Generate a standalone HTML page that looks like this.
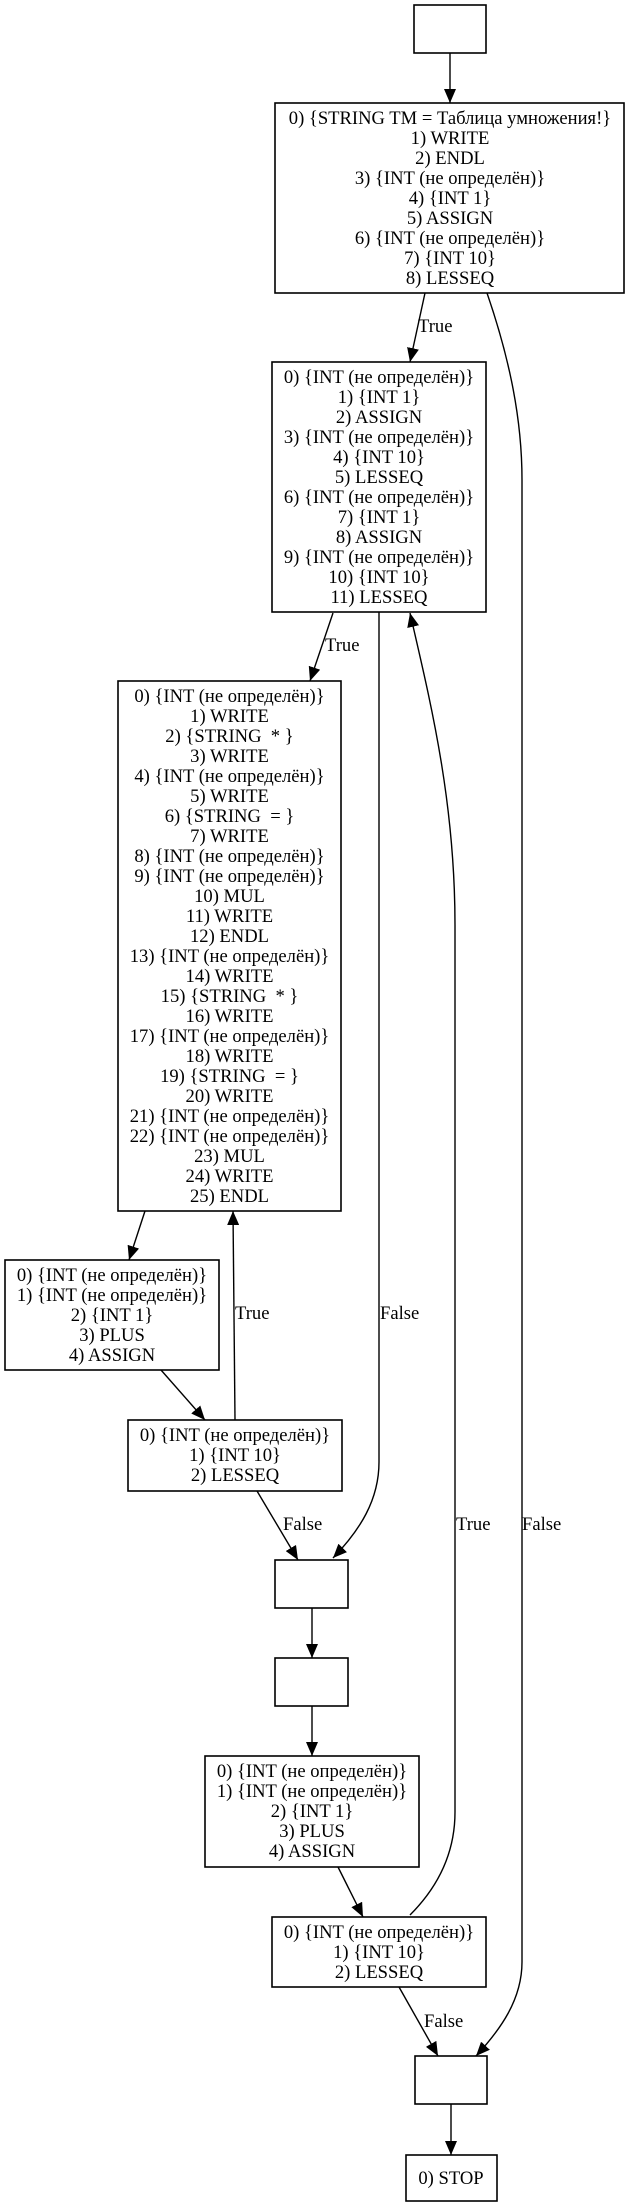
<!DOCTYPE html>
<html><head><meta charset="utf-8"><style>
html,body{margin:0;padding:0;background:#fff}
svg{display:block}
text{font-family:"Liberation Serif","DejaVu Serif",serif;font-size:18.6px;fill:#000}
</style></head><body>
<svg width="626" height="2203" viewBox="0 0 626 2203" xmlns="http://www.w3.org/2000/svg">
<defs><marker id="a" markerUnits="userSpaceOnUse" markerWidth="14" markerHeight="12" refX="14" refY="6" orient="auto"><path d="M0,0 L14,6 L0,12 Z" fill="#000"/></marker></defs>
<g fill="none" stroke="#000" stroke-width="1.6">
<rect x="414" y="5" width="72" height="48"/>
<rect x="275" y="103" width="349" height="190"/>
<rect x="272" y="362" width="214" height="250"/>
<rect x="118" y="681" width="223" height="530"/>
<rect x="5" y="1260" width="214" height="110"/>
<rect x="128" y="1420" width="214" height="71"/>
<rect x="275" y="1560" width="73" height="48"/>
<rect x="275" y="1658" width="73" height="48"/>
<rect x="205" y="1756" width="214" height="111"/>
<rect x="272" y="1917" width="214" height="70"/>
<rect x="415" y="2056" width="72" height="48"/>
<rect x="406" y="2155" width="91" height="46"/>
</g>
<g fill="none" stroke="#000" stroke-width="1.4" marker-end="url(#a)">
<path d="M450,53 L450,103"/>
<path d="M425,293 L410,362"/>
<path d="M487,293 C510,360 522,420 522,480 L522,1962 C522,2000 500,2030 476,2056"/>
<path d="M333,613 L310,681"/>
<path d="M379,612 L379,1462 C379,1500 360,1530 333,1558"/>
<path d="M145,1211 L129,1260"/>
<path d="M161,1370 L205,1420"/>
<path d="M235,1420 L233,1211"/>
<path d="M257,1491 L298,1560"/>
<path d="M312,1608 L312,1658"/>
<path d="M312,1706 L312,1756"/>
<path d="M338,1867 L363,1917"/>
<path d="M410,1915 C440,1885 455,1850 455,1812 L455,925 C455,800 430,700 410,613"/>
<path d="M399,1987 L438,2056"/>
<path d="M451,2104 L451,2155"/>
</g>
<g text-anchor="middle">
<text x="450" y="124">0) {STRING TM = Таблица умножения!}</text>
<text x="450" y="144">1) WRITE</text>
<text x="450" y="164">2) ENDL</text>
<text x="450" y="184">3) {INT (не определён)}</text>
<text x="450" y="204">4) {INT 1}</text>
<text x="450" y="224">5) ASSIGN</text>
<text x="450" y="244">6) {INT (не определён)}</text>
<text x="450" y="264">7) {INT 10}</text>
<text x="450" y="284">8) LESSEQ</text>

<text x="379" y="383">0) {INT (не определён)}</text>
<text x="379" y="403">1) {INT 1}</text>
<text x="379" y="423">2) ASSIGN</text>
<text x="379" y="443">3) {INT (не определён)}</text>
<text x="379" y="463">4) {INT 10}</text>
<text x="379" y="483">5) LESSEQ</text>
<text x="379" y="503">6) {INT (не определён)}</text>
<text x="379" y="523">7) {INT 1}</text>
<text x="379" y="543">8) ASSIGN</text>
<text x="379" y="563">9) {INT (не определён)}</text>
<text x="379" y="583">10) {INT 10}</text>
<text x="379" y="603">11) LESSEQ</text>

<text x="229.5" y="702">0) {INT (не определён)}</text>
<text x="229.5" y="722">1) WRITE</text>
<text x="229.5" y="742">2) {STRING&#160; * }</text>
<text x="229.5" y="762">3) WRITE</text>
<text x="229.5" y="782">4) {INT (не определён)}</text>
<text x="229.5" y="802">5) WRITE</text>
<text x="229.5" y="822">6) {STRING&#160; = }</text>
<text x="229.5" y="842">7) WRITE</text>
<text x="229.5" y="862">8) {INT (не определён)}</text>
<text x="229.5" y="882">9) {INT (не определён)}</text>
<text x="229.5" y="902">10) MUL</text>
<text x="229.5" y="922">11) WRITE</text>
<text x="229.5" y="942">12) ENDL</text>
<text x="229.5" y="962">13) {INT (не определён)}</text>
<text x="229.5" y="982">14) WRITE</text>
<text x="229.5" y="1002">15) {STRING&#160; * }</text>
<text x="229.5" y="1022">16) WRITE</text>
<text x="229.5" y="1042">17) {INT (не определён)}</text>
<text x="229.5" y="1062">18) WRITE</text>
<text x="229.5" y="1082">19) {STRING&#160; = }</text>
<text x="229.5" y="1102">20) WRITE</text>
<text x="229.5" y="1122">21) {INT (не определён)}</text>
<text x="229.5" y="1142">22) {INT (не определён)}</text>
<text x="229.5" y="1162">23) MUL</text>
<text x="229.5" y="1182">24) WRITE</text>
<text x="229.5" y="1202">25) ENDL</text>

<text x="112" y="1281">0) {INT (не определён)}</text>
<text x="112" y="1301">1) {INT (не определён)}</text>
<text x="112" y="1321">2) {INT 1}</text>
<text x="112" y="1341">3) PLUS</text>
<text x="112" y="1361">4) ASSIGN</text>

<text x="235" y="1441">0) {INT (не определён)}</text>
<text x="235" y="1461">1) {INT 10}</text>
<text x="235" y="1481">2) LESSEQ</text>

<text x="312" y="1777">0) {INT (не определён)}</text>
<text x="312" y="1797">1) {INT (не определён)}</text>
<text x="312" y="1817">2) {INT 1}</text>
<text x="312" y="1837">3) PLUS</text>
<text x="312" y="1857">4) ASSIGN</text>

<text x="379" y="1938">0) {INT (не определён)}</text>
<text x="379" y="1958">1) {INT 10}</text>
<text x="379" y="1978">2) LESSEQ</text>

<text x="451" y="2184">0) STOP</text>
</g>
<g>
<text x="418" y="332">True</text>
<text x="325" y="651">True</text>
<text x="380" y="1319">False</text>
<text x="235" y="1319">True</text>
<text x="283" y="1530">False</text>
<text x="456" y="1530">True</text>
<text x="522" y="1530">False</text>
<text x="424" y="2027">False</text>
</g>
</svg>
</body></html>
